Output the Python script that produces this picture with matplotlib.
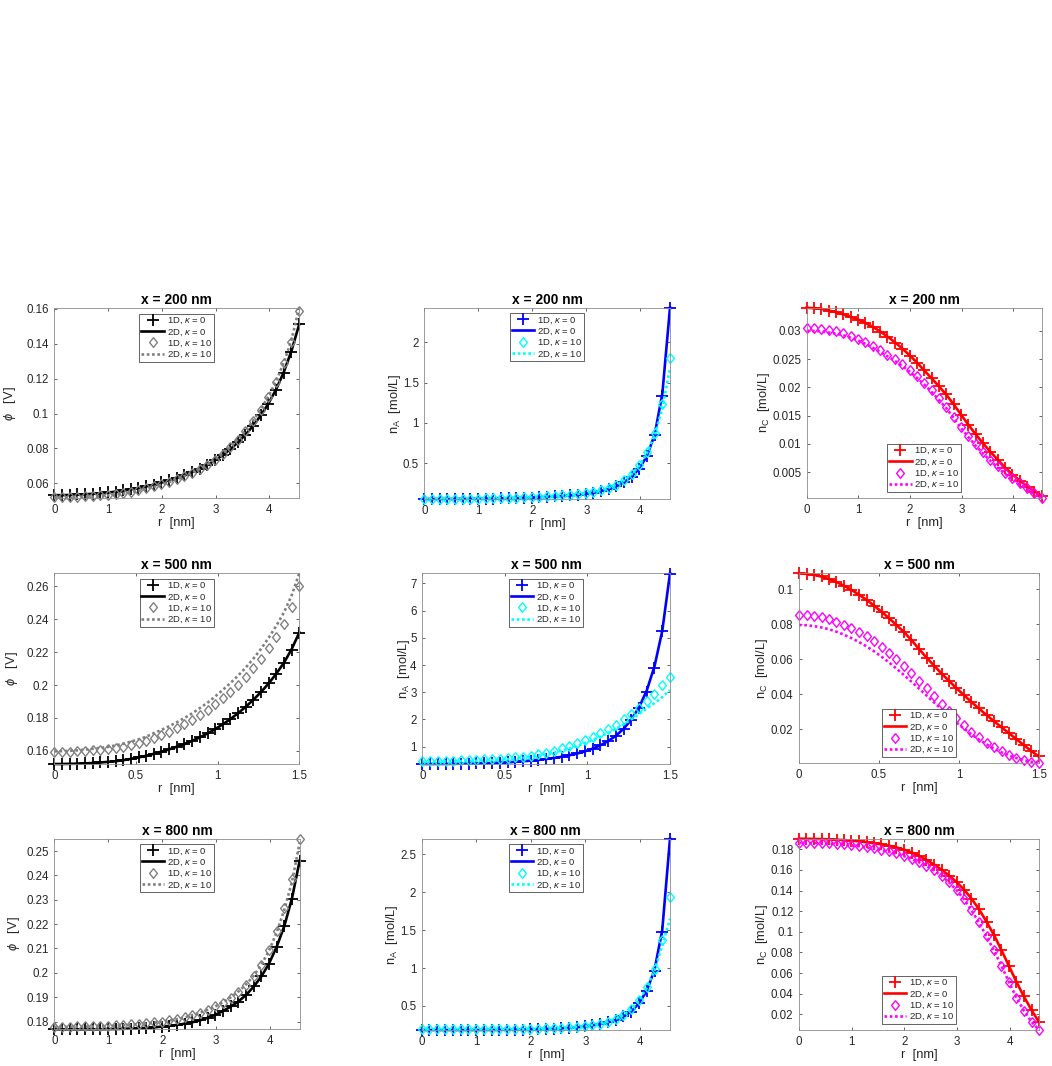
import matplotlib
matplotlib.use("Agg")
import matplotlib.pyplot as plt
from matplotlib.ticker import MultipleLocator, FuncFormatter

plt.rcParams.update({
    "font.family": ["Liberation Sans", "DejaVu Sans"],
    "mathtext.fontset": "custom",
    "mathtext.rm": "Liberation Sans",
    "mathtext.it": "Liberation Sans:italic",
    "mathtext.bf": "Liberation Sans:bold",
})

# ---------------------------------------------------------------- radial grids
R_WIDE = [0.000, 0.142, 0.284, 0.427, 0.569, 0.711, 0.853, 0.995, 1.138, 1.280,
          1.422, 1.564, 1.706, 1.848, 1.991, 2.133, 2.275, 2.417, 2.559, 2.702,
          2.844, 2.986, 3.128, 3.270, 3.412, 3.555, 3.697, 3.839, 3.981, 4.123,
          4.266, 4.408, 4.550]
R_NARROW = [0.000, 0.047, 0.094, 0.141, 0.188, 0.234, 0.281, 0.328, 0.375, 0.422,
            0.469, 0.516, 0.563, 0.609, 0.656, 0.703, 0.750, 0.797, 0.844, 0.891,
            0.938, 0.984, 1.031, 1.078, 1.125, 1.172, 1.219, 1.266, 1.313, 1.359,
            1.406, 1.453, 1.500]

# ---------------------------------------------------------------- x = 200 nm
PHI200_1D_K0 = [.0533, .0533, .0534, .0536, .0538, .0541, .0544, .0548, .0553, .0559, .0566,
                .0574, .0583, .0593, .0605, .0618, .0632, .0648, .0665, .0684, .0705, .0732,
                .0762, .0796, .0835, .0880, .0931, .0990, .1057, .1137, .1235, .1355, .1512]
PHI200_2D_K0 = [.0532, .0532, .0533, .0535, .0537, .0540, .0543, .0547, .0552, .0558, .0565,
                .0573, .0582, .0592, .0604, .0617, .0631, .0647, .0664, .0683, .0705, .0731,
                .0761, .0795, .0834, .0879, .0930, .0989, .1057, .1138, .1237, .1358, .1508]
PHI200_1D_K10 = [.0520, .0520, .0521, .0523, .0525, .0528, .0531, .0535, .0540, .0546, .0553,
                 .0561, .0571, .0582, .0595, .0609, .0624, .0641, .0660, .0681, .0707, .0736,
                 .0768, .0806, .0850, .0900, .0957, .1022, .1097, .1183, .1288, .1413, .1589]
PHI200_2D_K10 = [.0514, .0514, .0515, .0517, .0519, .0522, .0526, .0530, .0535, .0541, .0548,
                 .0557, .0567, .0579, .0592, .0607, .0623, .0641, .0660, .0682, .0708, .0737,
                 .0770, .0808, .0852, .0902, .0959, .1024, .1099, .1186, .1291, .1420, .1604]

NA200_1D_K0 = [.0560, .0560, .0562, .0567, .0571, .0578, .0584, .0594, .0605, .0620, .0637,
               .0657, .0680, .0707, .0741, .0779, .0823, .0876, .0936, .1008, .1094, .1215,
               .1365, .1558, .1814, .2161, .2636, .3316, .4305, .5871, .8500, 1.340, 2.430]
NA200_2D_K0 = [.0560, .0560, .0562, .0566, .0571, .0577, .0584, .0593, .0604, .0619, .0636,
               .0656, .0679, .0706, .0740, .0778, .0822, .0875, .0935, .1007, .1094, .1214,
               .1363, .1556, .1812, .2160, .2640, .3330, .4330, .5900, .8550, 1.360, 2.430]
NA200_1D_K10 = [.058, .058, .058, .059, .059, .060, .061, .062, .063, .065, .067,
                .069, .072, .075, .079, .083, .088, .094, .101, .110, .120, .133,
                .149, .169, .197, .235, .290, .370, .480, .640, .870, 1.240, 1.800]
NA200_2D_K10 = [.057, .057, .057, .058, .058, .059, .060, .061, .062, .064, .066,
                .068, .071, .074, .078, .082, .087, .093, .100, .109, .119, .132,
                .148, .168, .195, .232, .285, .362, .470, .625, .845, 1.180, 1.680]

NC200_1D_K0 = [.0340, .0340, .0338, .0336, .0333, .0329, .0325, .0320, .0314, .0307, .0298,
               .0289, .0279, .0268, .0256, .0243, .0230, .0216, .0203, .0188, .0170, .0151,
               .0134, .0117, .0101, .0086, .0071, .0057, .0045, .0034, .0024, .0015, .0007]
NC200_2D_K0 = [.0341, .0340, .0339, .0336, .0333, .0329, .0325, .0320, .0314, .0307, .0299,
               .0290, .0280, .0269, .0257, .0244, .0230, .0216, .0202, .0187, .0170, .0152,
               .0134, .0117, .0101, .0086, .0072, .0058, .0046, .0035, .0025, .0016, .0008]
NC200_1D_K10 = [.0305, .0305, .0304, .0302, .0299, .0296, .0291, .0286, .0280, .0273, .0266,
                .0258, .0250, .0241, .0231, .0220, .0208, .0195, .0181, .0166, .0148, .0130,
                .0114, .0099, .0085, .0072, .0060, .0049, .0039, .0030, .0021, .0012, .0004]
NC200_2D_K10 = [.0300, .0300, .0299, .0297, .0295, .0292, .0288, .0283, .0277, .0270, .0263,
                .0255, .0247, .0238, .0228, .0217, .0205, .0192, .0178, .0163, .0146, .0128,
                .0112, .0097, .0083, .0070, .0058, .0047, .0037, .0028, .0019, .0011, .0004]

# ---------------------------------------------------------------- x = 500 nm
PHI500_1D_K0 = [.1521, .1521, .1522, .1523, .1525, .1527, .1530, .1533, .1538, .1544, .1552,
                .1561, .1571, .1583, .1596, .1610, .1626, .1643, .1662, .1683, .1707, .1733,
                .1762, .1794, .1829, .1868, .1911, .1958, .2010, .2067, .2132, .2213, .2316]
PHI500_2D_K0 = [.1520, .1520, .1521, .1522, .1524, .1526, .1529, .1533, .1537, .1543, .1551,
                .1560, .1570, .1582, .1595, .1609, .1625, .1642, .1661, .1682, .1706, .1732,
                .1761, .1793, .1829, .1868, .1911, .1958, .2011, .2069, .2136, .2218, .2320]
PHI500_1D_K10 = [.1594, .1594, .1595, .1597, .1600, .1603, .1607, .1611, .1618, .1626, .1636,
                 .1648, .1661, .1681, .1697, .1717, .1739, .1762, .1788, .1817, .1848, .1882,
                 .1919, .1959, .2002, .2049, .2101, .2159, .2223, .2293, .2372, .2472, .2600]
PHI500_2D_K10 = [.1597, .1598, .1600, .1603, .1608, .1612, .1618, .1624, .1633, .1643, .1656,
                 .1670, .1686, .1708, .1727, .1750, .1774, .1800, .1828, .1860, .1893, .1930,
                 .1970, .2012, .2057, .2106, .2161, .2221, .2288, .2360, .2442, .2545, .2680]

NA500_1D_K0 = [.365, .365, .366, .368, .371, .375, .380, .386, .393, .402, .413,
               .428, .446, .466, .490, .518, .550, .588, .632, .686, .750, .830,
               .930, 1.050, 1.200, 1.390, 1.640, 1.970, 2.410, 3.020, 3.900, 5.250, 7.330]
NA500_2D_K0 = [.364, .364, .365, .367, .370, .374, .379, .385, .392, .401, .412,
               .427, .445, .465, .489, .517, .549, .587, .631, .685, .749, .829,
               .929, 1.050, 1.205, 1.400, 1.660, 2.000, 2.450, 3.060, 3.950, 5.250, 7.370]
NA500_1D_K10 = [.480, .480, .483, .487, .492, .499, .508, .518, .530, .545, .562,
                .580, .605, .635, .670, .720, .780, .855, .935, 1.025, 1.125, 1.240,
                1.360, 1.490, 1.645, 1.815, 2.000, 2.205, 2.430, 2.680, 2.950, 3.250, 3.570]
NA500_2D_K10 = [.450, .450, .452, .455, .460, .466, .473, .481, .490, .503, .518,
                .537, .560, .590, .627, .670, .720, .780, .850, .935, 1.030, 1.135,
                1.250, 1.370, 1.500, 1.655, 1.820, 2.005, 2.200, 2.400, 2.600, 2.820, 3.080]

NC500_1D_K0 = [.1091, .1089, .1083, .1073, .1059, .1041, .1020, .0996, .0968, .0938, .0905,
               .0870, .0834, .0796, .0757, .0710, .0658, .0608, .0563, .0517, .0475, .0435,
               .0395, .0355, .0318, .0280, .0245, .0211, .0176, .0143, .0108, .0073, .0044]
NC500_2D_K0 = [.1090, .1088, .1082, .1072, .1058, .1041, .1020, .0996, .0969, .0939, .0906,
               .0871, .0834, .0795, .0755, .0709, .0658, .0609, .0563, .0518, .0475, .0434,
               .0394, .0355, .0317, .0280, .0245, .0210, .0176, .0142, .0108, .0074, .0042]
NC500_1D_K10 = [.0853, .0852, .0847, .0839, .0829, .0815, .0798, .0778, .0756, .0731, .0701,
                .0670, .0636, .0600, .0562, .0520, .0477, .0433, .0389, .0345, .0302, .0261,
                .0222, .0186, .0153, .0123, .0096, .0073, .0053, .0037, .0024, .0014, .0006]
NC500_2D_K10 = [.0795, .0794, .0789, .0781, .0771, .0757, .0740, .0720, .0698, .0673, .0645,
                .0614, .0581, .0546, .0509, .0471, .0432, .0392, .0352, .0313, .0275, .0238,
                .0203, .0170, .0140, .0113, .0088, .0067, .0049, .0034, .0022, .0013, .0007]

# ---------------------------------------------------------------- x = 800 nm
PHI800_1D_K0 = [.1768, .1768, .1768, .1768, .1768, .1768, .1768, .1768, .1769, .1770, .1771,
                .1772, .1774, .1776, .1779, .1782, .1786, .1791, .1797, .1805, .1815, .1828,
                .1843, .1862, .1882, .1910, .1944, .1985, .2037, .2106, .2191, .2304, .2459]
PHI800_2D_K0 = [.1768, .1768, .1768, .1768, .1768, .1768, .1768, .1769, .1769, .1770, .1771,
                .1772, .1774, .1776, .1779, .1782, .1786, .1791, .1797, .1805, .1815, .1828,
                .1843, .1861, .1882, .1909, .1943, .1985, .2038, .2107, .2193, .2307, .2462]
PHI800_1D_K10 = [.1779, .1779, .1779, .1780, .1780, .1781, .1782, .1783, .1784, .1786, .1788,
                 .1790, .1793, .1796, .1800, .1805, .1811, .1818, .1826, .1836, .1848, .1862,
                 .1878, .1897, .1921, .1950, .1986, .2031, .2092, .2171, .2267, .2387, .2551]
PHI800_2D_K10 = [.1778, .1778, .1778, .1779, .1779, .1780, .1781, .1782, .1783, .1785, .1787,
                 .1789, .1792, .1795, .1799, .1804, .1810, .1817, .1826, .1836, .1848, .1862,
                 .1879, .1899, .1923, .1952, .1988, .2033, .2091, .2166, .2260, .2375, .2535]

NA800_1D_K0 = [.183, .183, .183, .183, .183, .183, .183, .183, .184, .184, .185,
               .186, .187, .189, .191, .193, .196, .200, .205, .211, .220, .231,
               .245, .264, .285, .318, .362, .426, .540, .700, .960, 1.480, 2.700]
NA800_2D_K0 = [.183, .183, .183, .183, .183, .183, .183, .183, .184, .184, .185,
               .186, .187, .189, .191, .193, .196, .200, .205, .211, .219, .230,
               .244, .262, .284, .316, .360, .425, .535, .700, .975, 1.500, 2.706]
NA800_1D_K10 = [.190, .190, .190, .190, .190, .191, .191, .191, .192, .192, .193,
                .194, .195, .196, .198, .200, .203, .207, .212, .218, .226, .236,
                .250, .268, .295, .333, .385, .460, .580, .750, .990, 1.370, 1.940]
NA800_2D_K10 = [.188, .188, .188, .188, .188, .189, .189, .189, .190, .190, .191,
                .192, .193, .194, .196, .198, .201, .205, .210, .216, .224, .234,
                .248, .266, .292, .330, .380, .455, .570, .740, .965, 1.300, 1.650]

NC800_1D_K0 = [.1900, .1900, .1899, .1898, .1896, .1893, .1889, .1884, .1877, .1868, .1858,
               .1847, .1834, .1817, .1796, .1768, .1735, .1695, .1650, .1600, .1545, .1482,
               .1410, .1322, .1220, .1100, .0970, .0825, .0670, .0517, .0373, .0245, .0129]
NC800_2D_K0 = [.1903, .1902, .1901, .1899, .1897, .1894, .1890, .1885, .1878, .1869, .1859,
               .1848, .1835, .1818, .1797, .1770, .1737, .1697, .1652, .1602, .1546, .1483,
               .1410, .1322, .1219, .1099, .0968, .0822, .0667, .0514, .0370, .0242, .0125]
NC800_1D_K10 = [.1865, .1865, .1864, .1862, .1859, .1855, .1849, .1841, .1832, .1821, .1809,
                .1795, .1779, .1760, .1737, .1710, .1678, .1641, .1597, .1545, .1483, .1408,
                .1318, .1212, .1092, .0960, .0820, .0672, .0515, .0362, .0236, .0130, .0048]
NC800_2D_K10 = [.1862, .1862, .1861, .1859, .1856, .1852, .1846, .1838, .1829, .1818, .1806,
                .1792, .1776, .1757, .1734, .1707, .1675, .1638, .1594, .1542, .1480, .1405,
                .1315, .1209, .1089, .0957, .0817, .0669, .0512, .0360, .0234, .0128, .0048]

LABELS = [r"1D, $\kappa$ = 0", r"2D, $\kappa$ = 0", r"1D, $\kappa$ = 10", r"2D, $\kappa$ = 10"]
TITLES = ["x = 200 nm", "x = 500 nm", "x = 800 nm"]
YLABELS = [r"$\phi$   [V]", r"n$_{\rm A}$  [mol/L]", r"n$_{\rm C}$  [mol/L]"]

# colours per column: (kappa = 0, kappa = 10)
COLORS = [("#000000", "#808080"), ("#0000ff", "#00ffff"), ("#ff0000", "#ff00ff")]

W, H = 1052, 1066
DIAMOND = [(0, 1), (0.8, 0), (0, -1), (-0.8, 0), (0, 1)]

PANELS = [
    # row, col, r, (1D k0, 2D k0, 1D k10, 2D k10), x step, y step, box px (l, t, r, b), ylabel x
    (0, 0, R_WIDE, (PHI200_1D_K0, PHI200_2D_K0, PHI200_1D_K10, PHI200_2D_K10), 1, 0.02,
     (54.3, 308.3, 299.0, 498.3), -0.147),
    (0, 1, R_WIDE, (NA200_1D_K0, NA200_2D_K0, NA200_1D_K10, NA200_2D_K10), 1, 0.5,
     (424.3, 307.7, 670.0, 499.0), -0.086),
    (0, 2, R_WIDE, (NC200_1D_K0, NC200_2D_K0, NC200_1D_K10, NC200_2D_K10), 1, 0.005,
     (806.7, 307.7, 1041.7, 498.0), -0.149),
    (1, 0, R_NARROW, (PHI500_1D_K0, PHI500_2D_K0, PHI500_1D_K10, PHI500_2D_K10), 0.5, 0.02,
     (54.3, 573.3, 299.3, 764.0), -0.140),
    (1, 1, R_NARROW, (NA500_1D_K0, NA500_2D_K0, NA500_1D_K10, NA500_2D_K10), 0.5, 1,
     (422.3, 573.3, 670.0, 764.0), -0.043),
    (1, 2, R_NARROW, (NC500_1D_K0, NC500_2D_K0, NC500_1D_K10, NC500_2D_K10), 0.5, 0.02,
     (799.0, 573.3, 1039.0, 763.0), -0.121),
    (2, 0, R_WIDE, (PHI800_1D_K0, PHI800_2D_K0, PHI800_1D_K10, PHI800_2D_K10), 1, 0.01,
     (54.3, 838.7, 299.7, 1029.3), -0.133),
    (2, 1, R_WIDE, (NA800_1D_K0, NA800_2D_K0, NA800_1D_K10, NA800_2D_K10), 1, 0.5,
     (421.7, 838.7, 670.0, 1030.0), -0.087),
    (2, 2, R_WIDE, (NC800_1D_K0, NC800_2D_K0, NC800_1D_K10, NC800_2D_K10), 1, 0.02,
     (799.0, 838.7, 1039.0, 1030.0), -0.121),
]

TEXT_GRAY = "0.15"
fmt = FuncFormatter(lambda v, pos: "%g" % round(v, 6))

fig = plt.figure(figsize=(W / 100, H / 100), dpi=100)

for row, col, r, series, xstep, ystep, box, ylab_x in PANELS:
    left, top, right, bottom = box
    ax = fig.add_axes([left / W, 1 - bottom / H, (right - left) / W, (bottom - top) / H])
    c0, c10 = COLORS[col]
    y1d0, y2d0, y1d10, y2d10 = series

    h1, = ax.plot(r, y1d0, ls="none", marker="+", ms=8, mew=1.3, color=c0, clip_on=False)
    h2, = ax.plot(r, y2d0, color=c0, lw=1.9, clip_on=False)
    h3, = ax.plot(r, y1d10, ls="none", marker=DIAMOND, ms=7, mew=1.0, mfc="none",
                  mec=c10, clip_on=False)
    h4, = ax.plot(r, y2d10, color=c10, lw=1.9, ls=(0, (1, 1)), clip_on=False)

    allv = list(y1d0) + list(y2d0) + list(y1d10) + list(y2d10)
    ax.set_xlim(r[0], r[-1])
    ax.set_ylim(min(allv), max(allv))
    ax.xaxis.set_major_locator(MultipleLocator(xstep))
    ax.yaxis.set_major_locator(MultipleLocator(ystep))
    ax.xaxis.set_major_formatter(fmt)
    ax.yaxis.set_major_formatter(fmt)
    ax.tick_params(direction="in", top=True, right=True, length=2.5, width=0.5,
                   labelsize=8.3, colors=TEXT_GRAY, pad=4)
    for s in ax.spines.values():
        s.set_color("0.55")
        s.set_linewidth(0.6)

    ax.set_title(TITLES[row], fontsize=9.9, fontweight="bold", pad=3)
    ax.set_xlabel("r  [nm]", fontsize=9.3, color=TEXT_GRAY)
    ax.xaxis.set_label_coords(0.5, -0.1)
    ax.set_ylabel(YLABELS[col], fontsize=9.3, color=TEXT_GRAY)
    ax.yaxis.set_label_coords(ylab_x, 0.5)

    leg = ax.legend([h1, h2, h3, h4], LABELS,
                    loc="lower center" if col == 2 else "upper center",
                    fontsize=6.8, frameon=True, fancybox=False, framealpha=1,
                    edgecolor="0.15", borderpad=0.2, labelspacing=0.1,
                    handlelength=2.4, handletextpad=0.3, borderaxespad=0.6)
    leg.get_frame().set_linewidth(0.5)
    for t in leg.get_texts():
        t.set_color(TEXT_GRAY)

fig.savefig("out.png", dpi=100)
